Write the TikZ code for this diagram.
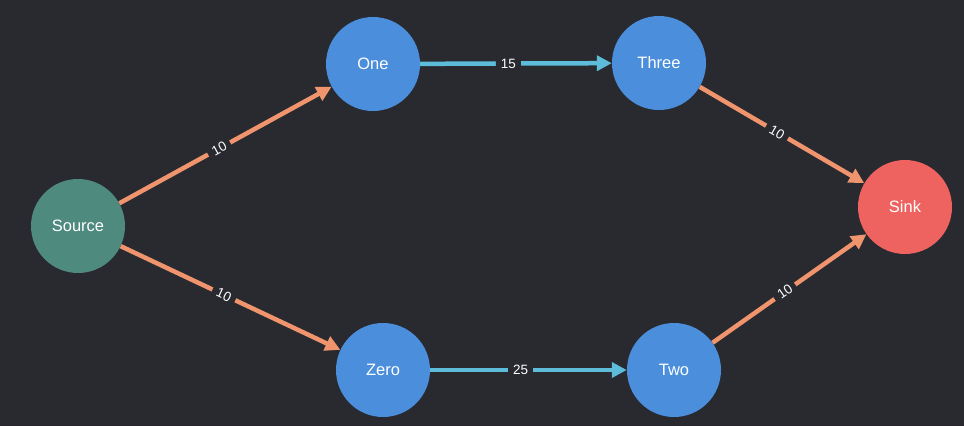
\documentclass[tikz,border=0pt]{standalone}
\usepackage{fontspec}
\setmainfont{Liberation Sans}
\usetikzlibrary{arrows.meta}
\definecolor{bg}{RGB}{40,42,48}
\definecolor{srcc}{RGB}{78,138,126}
\definecolor{sinkc}{RGB}{238,98,96}
\definecolor{bluec}{RGB}{74,142,220}
\definecolor{orangec}{RGB}{240,148,110}
\definecolor{cyanc}{RGB}{92,188,218}
\tikzset{
  vert/.style={circle, minimum size=94pt, inner sep=0pt, text=white, font=\fontsize{16.5}{18}\selectfont},
  flowA/.style={draw=orangec, line width=4.5pt, -{Triangle[length=15pt,width=15pt]}},
  flowB/.style={draw=cyanc, line width=4.5pt, -{Triangle[length=15pt,width=15pt]}},
  elabel/.style={fill=bg, text=white, inner xsep=5pt, inner ysep=4pt, font=\fontsize{13.5}{15}\selectfont, sloped, pos=0.47}
}
\begin{document}
\begin{tikzpicture}[x=1pt,y=-1pt]
\fill[bg] (0,0) rectangle (964,426);
\useasboundingbox (0,0) rectangle (964,426);
\node[vert, fill=srcc] (src) at (78,226) {Source};
\node[vert, fill=bluec] (one) at (373,64) {One};
\node[vert, fill=bluec] (three) at (659,63) {Three};
\node[vert, fill=sinkc] (sink) at (905,207) {Sink};
\node[vert, fill=bluec] (zero) at (383,370) {Zero};
\node[vert, fill=bluec] (two) at (674,370) {Two};
\draw[flowA] (src) -- node[elabel] {10} (one);
\draw[flowA] (src) -- node[elabel] {10} (zero);
\draw[flowB] (one) -- node[elabel, pos=0.46] {15} (three);
\draw[flowB] (zero) -- node[elabel, pos=0.46] {25} (two);
\draw[flowA] (three) -- node[elabel] {10} (sink);
\draw[flowA] (two) -- node[elabel] {10} (sink);
\end{tikzpicture}
\end{document}
